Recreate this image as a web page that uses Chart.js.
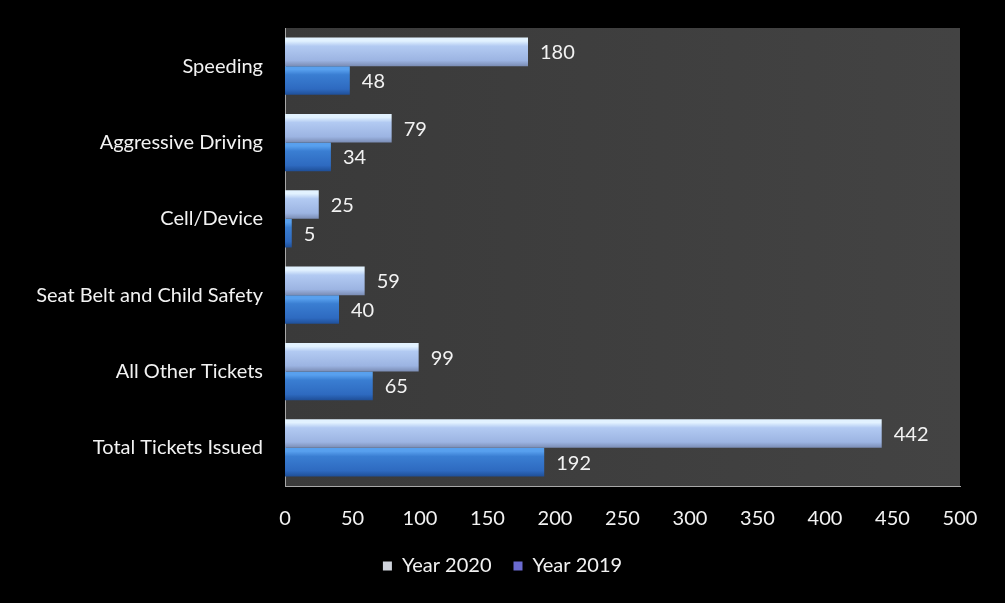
<!DOCTYPE html>
<html lang="en">
<head>
  <meta charset="UTF-8">
  <title>Tickets Issued 2019 vs 2020</title>
  <script src="https://cdn.jsdelivr.net/npm/chart.js"></script>
  <style>
    html, body { margin: 0; padding: 0; background: #000; }
    .wrap { width: 1005px; height: 603px; position: relative; }
  </style>
</head>
<body>
<div class="wrap"><canvas id="grafico"></canvas></div>

<script>
const categorie = ['Speeding', 'Aggressive Driving', 'Cell/Device', 'Seat Belt and Child Safety', 'All Other Tickets', 'Total Tickets Issued'];
const anno2020 = [180, 79, 25, 59, 99, 442];
const anno2019 = [48, 34, 5, 40, 65, 192];
const tickX = [0, 50, 100, 150, 200, 250, 300, 350, 400, 450, 500];

const FONT = 'Lato, "Noto Sans", sans-serif';

// bar gradient, worked out from the category scale (bars sit above / below the centre)
function sfumatura(ctx, chiari) {
  const chart = ctx.chart;
  const y = chart.scales && chart.scales.y;
  if (!chart.chartArea || !y || ctx.dataIndex === undefined) return chiari[1];
  const centro = y.getPixelForValue(ctx.dataIndex);
  const h = (y.height / categorie.length) * 0.75 / 2;
  const top = ctx.datasetIndex === 0 ? centro - h : centro;
  const g = chart.ctx.createLinearGradient(0, top, 0, top + h);
  g.addColorStop(0, chiari[0]);
  g.addColorStop(0.12, chiari[0]);
  g.addColorStop(0.3, chiari[1]);
  g.addColorStop(0.8, chiari[2]);
  g.addColorStop(1, chiari[3]);
  return g;
}

const sfondo = {
  id: 'sfondo',
  beforeDraw(chart) {
    const { ctx, chartArea: a } = chart;
    ctx.save();
    ctx.fillStyle = '#000';
    ctx.fillRect(0, 0, chart.width, chart.height);
    const g = ctx.createLinearGradient(a.left, 0, a.right, 0);
    g.addColorStop(0, '#3a3a3a');
    g.addColorStop(1, '#434343');
    ctx.fillStyle = g;
    ctx.fillRect(a.left, a.top, a.right - a.left, a.bottom - a.top);
    ctx.restore();
  }
};

const etichette = {
  id: 'etichette',
  afterDatasetsDraw(chart) {
    const ctx = chart.ctx;
    ctx.save();
    ctx.font = '20px ' + FONT;
    ctx.fillStyle = '#f2f2f2';
    ctx.textBaseline = 'middle';
    ctx.textAlign = 'left';
    chart.data.datasets.forEach((ds, i) => {
      chart.getDatasetMeta(i).data.forEach((bar, j) => {
        ctx.fillText(ds.data[j], bar.x + 12, bar.y + 1);
      });
    });
    ctx.restore();
  }
};

new Chart(document.getElementById('grafico'), {
  type: 'bar',
  data: {
    labels: categorie,
    datasets: [
      {
        label: 'Year 2020',
        data: anno2020,
        backgroundColor: ctx => sfumatura(ctx, ['#e2f2ff', '#b2caf2', '#9cb4e2', '#7a8cb4']),
        borderWidth: 0,
        barPercentage: 1,
        categoryPercentage: 0.75
      },
      {
        label: 'Year 2019',
        data: anno2019,
        backgroundColor: ctx => sfumatura(ctx, ['#58a0ee', '#3a7ed2', '#2e6ac0', '#1f4f98']),
        borderWidth: 0,
        barPercentage: 1,
        categoryPercentage: 0.75
      }
    ]
  },
  options: {
    indexAxis: 'y',
    responsive: true,
    maintainAspectRatio: false,
    animation: false,
    layout: { padding: { left: 0, right: 0, top: 28, bottom: 17 } },
    plugins: {
      tooltip: { enabled: false },
      legend: {
        position: 'bottom',
        labels: {
          color: '#f2f2f2',
          font: { family: FONT, size: 20 },
          boxWidth: 9,
          boxHeight: 9,
          padding: 22,
          generateLabels: chart => chart.data.datasets.map((ds, i) => ({
            text: ds.label,
            fillStyle: i === 0 ? '#d0d4dc' : '#6a6ad0',
            strokeStyle: 'transparent',
            lineWidth: 0,
            fontColor: '#f2f2f2',
            datasetIndex: i
          }))
        }
      }
    },
    scales: {
      x: {
        min: 0,
        max: 500,
        afterBuildTicks: scale => { scale.ticks = tickX.map(v => ({ value: v })); },
        afterFit: scale => { scale.height = 48; },
        grid: { display: false, drawTicks: false },
        border: { display: true, color: '#a8a8a8', width: 1 },
        ticks: { color: '#f2f2f2', font: { family: FONT, size: 20 }, padding: 21 }
      },
      y: {
        afterFit: scale => { scale.width = 285; scale.paddingTop = 0; scale.paddingBottom = 0; },
        grid: { display: false, drawTicks: false },
        border: { display: true, color: '#a8a8a8', width: 1 },
        ticks: { color: '#f2f2f2', font: { family: FONT, size: 20 }, padding: 22 }
      },
      // empty right margin so the legend stays centred on the page
      margine: {
        type: 'linear',
        position: 'right',
        afterFit: scale => { scale.width = 45; scale.paddingTop = 0; scale.paddingBottom = 0; },
        grid: { display: false },
        border: { display: false },
        ticks: { display: false }
      }
    }
  },
  plugins: [sfondo, etichette]
});
</script>
</body>
</html>
